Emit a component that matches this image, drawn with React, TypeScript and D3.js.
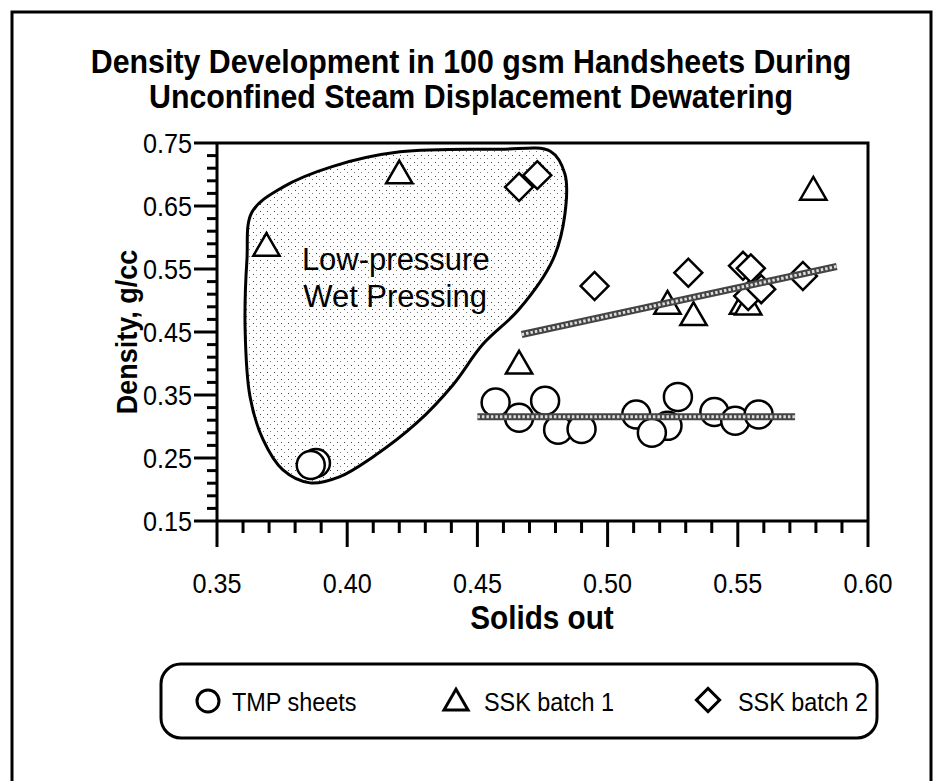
import * as d3 from "d3";

// TMP sheets (circles)
const tmpSolids = [0.457, 0.466, 0.476, 0.481, 0.49, 0.511, 0.523, 0.517, 0.527, 0.541, 0.549, 0.558, 0.388, 0.386];
const tmpDensity = [0.338, 0.314, 0.341, 0.295, 0.296, 0.319, 0.301, 0.29, 0.347, 0.323, 0.309, 0.319, 0.242, 0.239];

// SSK batch 1 (triangles)
const ssk1Solids = [0.42, 0.369, 0.579, 0.523, 0.533, 0.552, 0.554, 0.466];
const ssk1Density = [0.698, 0.583, 0.672, 0.491, 0.473, 0.491, 0.49, 0.396];

// SSK batch 2 (diamonds)
const ssk2Solids = [0.466, 0.473, 0.495, 0.531, 0.554, 0.559, 0.552, 0.555, 0.575];
const ssk2Density = [0.68, 0.699, 0.523, 0.544, 0.507, 0.518, 0.555, 0.551, 0.539];

// fitted lines
const tmpFitSolids = [0.45, 0.572];
const tmpFitDensity = [0.3155, 0.3155];
const sskFitSolids = [0.467, 0.588];
const sskFitDensity = [0.446, 0.554];

// "Low-pressure Wet Pressing" outline
const blobSolids = [0.3615, 0.3634, 0.3753, 0.3945, 0.4203, 0.4587, 0.478, 0.4836, 0.4836, 0.479, 0.466, 0.452, 0.4406, 0.4268, 0.41, 0.397, 0.3857, 0.3753, 0.3677, 0.3627, 0.3608];
const blobDensity = [0.565, 0.64, 0.68, 0.713, 0.736, 0.74, 0.737, 0.701, 0.637, 0.565, 0.486, 0.43, 0.366, 0.306, 0.252, 0.22, 0.2105, 0.231, 0.279, 0.347, 0.454];

const xTickLabels = ["0.35", "0.40", "0.45", "0.50", "0.55", "0.60"];
const yTickLabels = ["0.15", "0.25", "0.35", "0.45", "0.55", "0.65", "0.75"];

const legendNames = ["TMP sheets", "SSK batch 1", "SSK batch 2"];

const font = "'Liberation Sans', Arial, Helvetica, sans-serif";

// slightly condensed text (the original uses a narrow Helvetica)
function NText(props: {
  x: number;
  y: number;
  size: number;
  sx?: number;
  bold?: boolean;
  anchor?: "start" | "middle" | "end";
  rotate?: number;
  children: string;
}) {
  const { x, y, size, bold, anchor, rotate, children } = props;
  const sx = props.sx ?? 0.9;
  return (
    <text
      transform={`translate(${x},${y})${rotate ? ` rotate(${rotate})` : ""} scale(${sx},1)`}
      textAnchor={anchor || "start"}
      fontSize={size}
      fontWeight={bold ? "bold" : "normal"}
    >
      {children}
    </text>
  );
}

export default function App() {
  const W = 939;
  const H = 781;
  const x = d3.scaleLinear().domain([0.35, 0.6]).range([217, 868]);
  const y = d3.scaleLinear().domain([0.15, 0.75]).range([521, 143]);

  const minorX = d3.range(0, 26).map((i) => 0.35 + i * 0.01);
  const minorY = d3.range(0, 31).map((i) => 0.15 + i * 0.02);

  const line = d3
    .line<[number, number]>()
    .x((d) => x(d[0]))
    .y((d) => y(d[1]));
  const blobPath = d3
    .line<[number, number]>()
    .x((d) => x(d[0]))
    .y((d) => y(d[1]))
    .curve(d3.curveCatmullRomClosed.alpha(0.5))(
    blobSolids.map((s, i) => [s, blobDensity[i]] as [number, number])
  );

  const tri = d3.symbol(d3.symbolTriangle, 300)()!;
  const dia = d3.symbol(d3.symbolSquare, 390)()!;
  const triSmall = d3.symbol(d3.symbolTriangle, 250)()!;
  const diaSmall = d3.symbol(d3.symbolSquare, 270)()!;

  const fitLine = (xs: number[], ys: number[]) => {
    const d = line(xs.map((s, i) => [s, ys[i]] as [number, number]))!;
    return (
      <g>
        <path d={d} stroke="#444" strokeWidth={7} fill="none" />
        <path d={d} stroke="#ddd" strokeWidth={3} strokeDasharray="2.5 2" fill="none" />
      </g>
    );
  };

  return (
    <svg
      width={W}
      height={H}
      style={{ position: "absolute", left: 0, top: 0, background: "#fff" }}
      fontFamily={font}
    >
      <defs>
        <pattern id="stip" width="7" height="7" patternUnits="userSpaceOnUse">
          <rect width="7" height="7" fill="#fff" />
          <rect x="1" y="1" width="1" height="1" fill="#444" />
          <rect x="4" y="4" width="1" height="1" fill="#777" />
        </pattern>
      </defs>

      {/* outer frame */}
      <rect x={12} y={12} width={919} height={800} fill="none" stroke="#000" strokeWidth={3} />

      {/* title */}
      <NText x={471} y={73} size={33} sx={0.92} bold anchor="middle">
        Density Development in 100 gsm Handsheets During
      </NText>
      <NText x={471} y={108} size={33} sx={0.92} bold anchor="middle">
        Unconfined Steam Displacement Dewatering
      </NText>

      {/* wet pressing region */}
      <path d={blobPath!} fill="url(#stip)" stroke="#000" strokeWidth={3} />
      <text x={x(0.3826)} y={y(0.548)} fontSize={31}>Low-pressure</text>
      <text x={x(0.3831)} y={y(0.4897)} fontSize={31}>Wet Pressing</text>

      {/* plot frame */}
      <path
        d={`M${x(0.35)},${y(0.75)}H${x(0.6)}V${y(0.15)}`}
        fill="none"
        stroke="#000"
        strokeWidth={3}
      />
      <line x1={x(0.35)} x2={x(0.6)} y1={y(0.15)} y2={y(0.15)} stroke="#000" strokeWidth={3} />
      <line x1={x(0.35)} x2={x(0.35)} y1={y(0.75)} y2={y(0.15)} stroke="#000" strokeWidth={3} />

      {/* x ticks */}
      {minorX.map((v, i) => (
        <line
          key={"xt" + i}
          x1={x(v)}
          x2={x(v)}
          y1={y(0.15)}
          y2={y(0.15) + (i % 5 === 0 ? 26 : 12)}
          stroke="#000"
          strokeWidth={3}
        />
      ))}
      {xTickLabels.map((t) => (
        <NText key={"xl" + t} x={x(+t)} y={593} size={28} anchor="middle">
          {t}
        </NText>
      ))}

      {/* y ticks */}
      {minorY.map((v, i) => (
        <line
          key={"yt" + i}
          x1={x(0.35)}
          x2={x(0.35) - (i % 5 === 0 ? 23 : 10)}
          y1={y(v)}
          y2={y(v)}
          stroke="#000"
          strokeWidth={3}
        />
      ))}
      {yTickLabels.map((t) => (
        <NText key={"yl" + t} x={192} y={y(+t) + 10} size={28} anchor="end">
          {t}
        </NText>
      ))}

      {/* axis titles */}
      <NText x={542} y={629} size={33} bold anchor="middle">
        Solids out
      </NText>
      <NText x={137} y={(y(0.75) + y(0.15)) / 2} size={30} bold anchor="middle" rotate={-90}>
        Density, g/cc
      </NText>

      {/* markers */}
      {tmpSolids.map((s, i) => (
        <circle key={"c" + i} cx={x(s)} cy={y(tmpDensity[i])} r={14} fill="#fff" stroke="#000" strokeWidth={2.5} />
      ))}
      {ssk1Solids.map((s, i) => (
        <path
          key={"t" + i}
          d={tri}
          transform={`translate(${x(s)},${y(ssk1Density[i])})`}
          fill="#fff"
          stroke="#000"
          strokeWidth={2.5}
        />
      ))}
      {ssk2Solids.map((s, i) => (
        <path
          key={"d" + i}
          d={dia}
          transform={`translate(${x(s)},${y(ssk2Density[i])}) rotate(45)`}
          fill="#fff"
          stroke="#000"
          strokeWidth={2.5}
        />
      ))}

      {/* fitted lines */}
      {fitLine(tmpFitSolids, tmpFitDensity)}
      {fitLine(sskFitSolids, sskFitDensity)}

      {/* legend */}
      <rect x={161} y={664} width={716} height={74} rx={20} fill="#fff" stroke="#000" strokeWidth={3} />
      <circle cx={208} cy={701} r={11} fill="#fff" stroke="#000" strokeWidth={3} />
      <NText x={232} y={711} size={26}>{legendNames[0]}</NText>
      <path d={triSmall} transform="translate(456,703)" fill="#fff" stroke="#000" strokeWidth={3} />
      <NText x={484} y={711} size={26}>{legendNames[1]}</NText>
      <path d={diaSmall} transform="translate(708,700) rotate(45)" fill="#fff" stroke="#000" strokeWidth={3} />
      <NText x={738} y={711} size={26}>{legendNames[2]}</NText>
    </svg>
  );
}
